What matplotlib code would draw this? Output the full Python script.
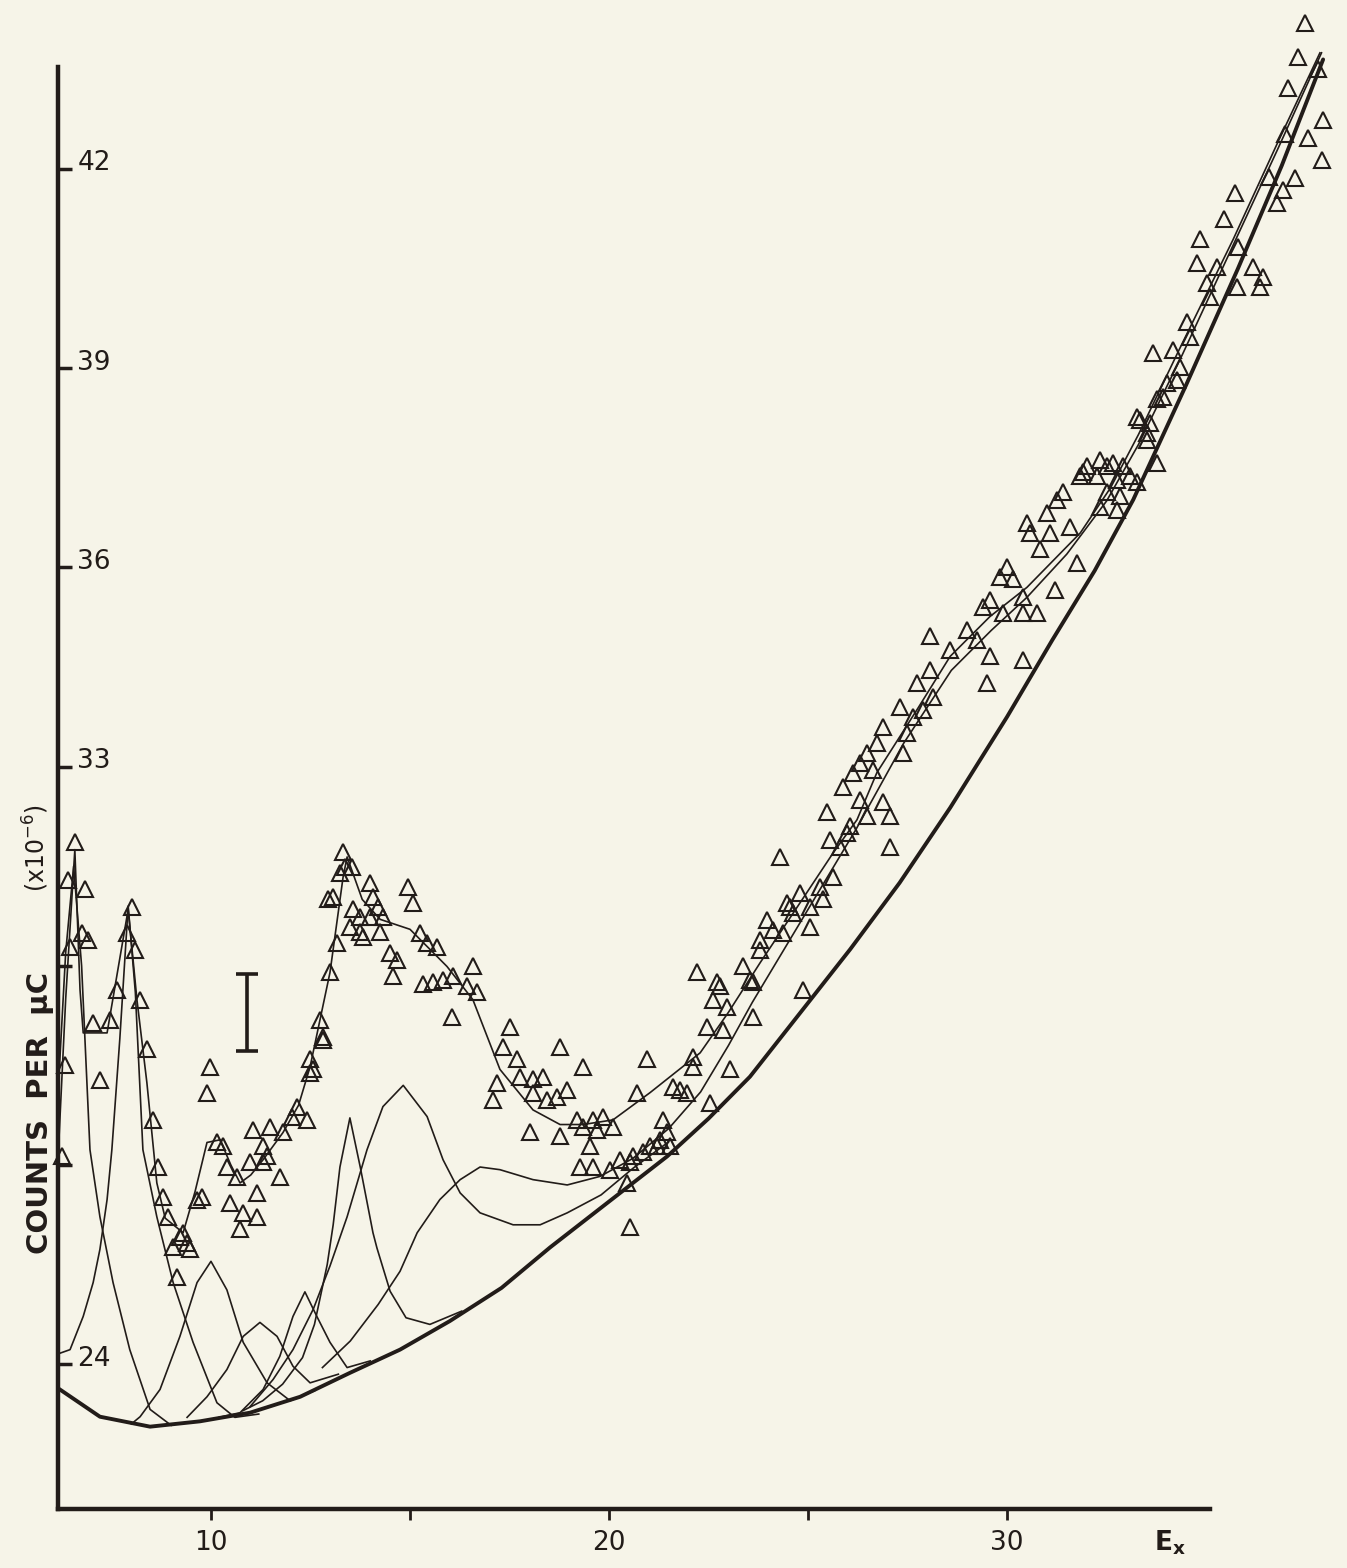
import matplotlib.pyplot as plt

plt.rcParams['font.family'] = ['DejaVu Sans']

INK = '#221c19'
PAPER = '#f6f4e8'

# measured points (triangles), x = E_x, y = counts per uC (x1e-6)
tri_x = [
    6.58, 6.41, 6.84, 6.76, 6.91, 6.46, 8.02, 7.89, 8.09, 7.64, 8.22, 7.04, 7.46, 8.39, 7.21, 6.33,
    8.54, 8.67, 8.80, 8.92, 9.30, 9.40, 9.98, 9.90, 9.77, 10.15, 10.30, 10.40, 10.65, 10.98, 11.31,
    11.41, 11.73, 11.16, 10.48, 10.81, 10.73, 11.06, 11.48, 11.81, 12.04, 12.16, 12.41, 12.56, 12.49,
    12.82, 12.74, 12.99, 13.17, 12.94, 13.32, 13.37, 13.24, 13.54, 14.00, 13.75, 13.49, 14.00, 14.50,
    14.57, 13.82, 14.33, 6.26, 9.22, 9.05, 9.47, 9.15, 9.65, 11.16, 11.31,
    13.07, 14.07, 14.95, 15.08, 13.57, 14.20, 13.75, 14.25, 14.67, 15.25, 15.43, 15.68, 15.33, 15.58,
    15.83, 16.08, 16.58, 16.43, 16.68, 16.06, 12.82, 12.49, 17.51, 17.34, 17.19, 17.09, 17.69, 17.77,
    18.09, 18.34, 18.95, 18.77, 19.35, 18.09, 18.44, 18.02, 18.77, 19.20, 19.60, 19.85, 20.10, 19.52,
    19.27, 19.60, 20.03, 20.28, 20.70, 20.96, 20.60, 21.03, 21.46, 21.79, 22.11, 20.53, 22.21,
    22.79, 23.37, 23.54, 22.61, 22.97, 23.62, 22.46, 22.87, 21.61, 21.96, 22.11, 23.04, 24.87, 22.54,
    21.36, 21.53, 21.21, 19.70, 19.35, 20.53, 20.86, 18.69, 21.28, 20.45,
    24.30, 25.55, 25.98, 25.63, 25.30, 24.80, 25.38, 24.47, 24.62, 23.97, 24.12, 25.05, 23.79, 22.71,
    28.07, 29.00, 29.40, 29.90, 30.40, 30.76, 29.25, 28.57, 29.57, 30.40, 28.07, 29.50, 27.74, 28.14,
    27.31, 27.89, 27.64, 26.89, 27.49, 26.73, 27.39, 26.48, 26.31, 26.63, 26.13, 25.88, 26.89, 27.06,
    26.31, 26.48, 25.48, 26.06, 25.81, 27.06, 25.05, 24.55, 24.37, 23.79, 23.62,
    34.02, 33.77, 33.27, 33.59, 33.52, 33.77, 32.01, 32.34, 32.66, 32.92, 31.84, 32.26, 32.76, 33.09,
    33.27, 31.41, 31.26, 32.51, 32.84, 32.34, 32.76, 31.01, 30.50, 31.58, 30.58, 31.08, 30.83, 31.76,
    30.00, 29.83, 30.15, 31.21, 29.57, 30.40,
    37.49, 37.31, 37.82, 37.06, 37.94, 36.99, 37.56, 37.91, 36.58, 37.24, 35.73, 36.92, 36.79, 35.45,
    34.85, 35.80, 34.77, 35.28, 36.18, 36.43, 35.03, 35.78, 35.10, 36.36, 34.52, 34.60, 33.67, 34.17,
    34.35, 34.27, 33.92, 33.34, 33.52, 32.51, 31.91,
]
tri_y = [
    31.87, 31.30, 31.15, 30.50, 30.39, 30.29, 30.89, 30.50, 30.24, 29.64, 29.49, 29.14, 29.19, 28.74, 28.28, 28.51,
    27.68, 26.97, 26.52, 26.22, 25.98, 25.83, 28.48, 28.09, 26.52, 27.34, 27.28, 26.97, 26.82, 27.04, 27.28,
    27.13, 26.82, 26.58, 26.43, 26.28, 26.03, 27.53, 27.58, 27.49, 27.73, 27.88, 27.68, 28.44, 28.59,
    28.93, 29.19, 29.90, 30.35, 31.00, 31.72, 31.49, 31.40, 31.49, 31.25, 30.74, 30.59, 30.74, 30.20,
    29.84, 30.44, 30.74, 27.13, 25.92, 25.77, 25.73, 25.32, 26.48, 26.22, 27.04,
    31.04, 31.04, 31.18, 30.95, 30.85, 30.89, 30.51, 30.51, 30.09, 30.50, 30.35, 30.29, 29.72, 29.75,
    29.79, 29.84, 29.99, 29.69, 29.60, 29.23, 28.89, 28.39, 29.08, 28.78, 28.24, 27.98, 28.59, 28.33,
    28.29, 28.33, 28.13, 28.78, 28.48, 28.09, 27.98, 27.49, 27.43, 27.68, 27.68, 27.73, 27.58, 27.28,
    26.97, 26.97, 26.93, 27.08, 28.09, 28.59, 27.13, 27.28, 27.49, 28.13, 28.48, 26.07, 29.90,
    29.69, 29.99, 29.79, 29.49, 29.38, 29.23, 29.08, 29.04, 28.18, 28.09, 28.63, 28.44, 29.64, 27.94,
    27.68, 27.28, 27.28, 27.53, 27.58, 27.04, 27.19, 28.03, 27.38, 26.73,
    31.64, 31.90, 32.00, 31.34, 31.19, 31.10, 31.00, 30.95, 30.80, 30.69, 30.54, 30.59, 30.39, 29.75,
    34.96, 35.06, 35.41, 35.32, 35.32, 35.32, 34.91, 34.76, 34.66, 34.61, 34.46, 34.26, 34.26, 34.05,
    33.90, 33.86, 33.75, 33.60, 33.51, 33.36, 33.21, 33.21, 33.06, 32.95, 32.91, 32.70, 32.46, 32.25,
    32.50, 32.25, 32.31, 32.10, 31.79, 31.79, 30.89, 30.89, 30.50, 30.24, 29.75,
    38.78, 38.53, 38.27, 38.18, 37.92, 37.58, 37.52, 37.62, 37.58, 37.52, 37.37, 37.37, 37.32, 37.37,
    37.28, 37.13, 37.02, 37.13, 37.07, 36.91, 36.87, 36.82, 36.67, 36.61, 36.52, 36.52, 36.27, 36.07,
    36.01, 35.86, 35.82, 35.66, 35.51, 35.56,
    44.20, 43.69, 43.50, 43.22, 42.74, 42.52, 42.47, 42.14, 41.88, 41.87, 41.64, 41.69, 41.49, 41.24,
    40.94, 40.83, 40.59, 40.53, 40.53, 40.38, 40.29, 40.23, 40.08, 40.23, 39.69, 39.47, 39.23, 39.28,
    39.02, 38.83, 38.57, 38.22, 38.03, 37.52, 37.43,
]

# background curve (thick)
bg_x = [6.13, 7.21, 8.47, 9.72, 10.98, 12.24, 13.49, 14.75, 16.0, 17.3, 18.52, 20.0, 21.46, 22.5,
        23.54, 25.05, 26.06, 27.3, 28.57, 30.0, 31.13, 32.2, 33.17, 34.5, 35.8, 36.9, 37.94]
bg_y = [23.65, 23.21, 23.06, 23.14, 23.27, 23.51, 23.87, 24.22, 24.65, 25.15, 25.76, 26.45, 27.13, 27.7,
        28.33, 29.48, 30.25, 31.25, 32.38, 33.75, 34.9, 35.95, 37.02, 38.75, 40.5, 42.05, 43.65]

# total fit through the data
fit_x = [6.15, 6.35, 6.58, 6.71, 6.79, 7.39, 7.92, 8.14, 8.39, 8.64, 8.85, 9.30, 9.6, 9.90, 10.23,
         10.5, 10.73, 11.0, 11.31, 11.81, 12.2, 12.49, 12.99, 13.32, 13.42, 13.8, 14.25, 15.0, 15.93,
         16.58, 17.26, 18.09, 18.77, 19.35, 20.10, 21.03, 22.29, 23.0, 23.8, 24.80, 25.63, 26.23,
         26.73, 27.74, 28.57, 29.57, 30.5, 31.84, 32.6, 33.3, 34.3, 35.68, 36.8, 37.86]
fit_y = [27.0, 29.5, 31.75, 29.64, 28.99, 28.99, 30.85, 29.49, 28.24, 26.73, 26.2, 25.98, 26.6, 27.34,
         27.38, 27.0, 26.73, 26.85, 27.08, 27.49, 27.9, 28.48, 29.90, 31.34, 31.64, 31.0, 30.70, 30.55,
         29.99, 29.49, 28.44, 27.83, 27.61, 27.61, 27.68, 28.09, 28.69, 29.3, 30.05, 30.95, 31.70,
         32.20, 32.91, 33.86, 34.66, 35.26, 35.7, 36.52, 37.2, 38.0, 39.25, 40.94, 42.4, 43.75]

# second fit (broad 16.8 component carried to the top)
fit2_x = [12.8, 13.5, 14.2, 14.75, 15.18, 15.75, 16.26, 16.76, 17.26, 18.09, 18.95, 19.78, 20.6, 21.5,
          22.3, 23.0, 23.6, 24.4, 25.2, 26.2, 27.4, 28.6, 29.6, 30.5, 31.5, 32.5, 33.3, 34.4, 35.6,
          36.8, 37.9]
fit2_y = [23.95, 24.35, 24.9, 25.4, 25.98, 26.48, 26.78, 26.97, 26.93, 26.78, 26.70, 26.83, 27.1, 27.55,
          28.1, 28.8, 29.45, 30.25, 31.05, 32.05, 33.35, 34.45, 35.05, 35.55, 36.2, 37.0, 37.85, 39.2,
          40.75, 42.3, 43.75]

# single-peak components (peak + background)
p1_x = [6.15, 6.35, 6.55, 6.75, 6.96, 7.21, 7.54, 7.96, 8.47, 9.0]
p1_y = [28.0, 30.2, 31.5, 30.0, 27.23, 26.22, 25.23, 24.22, 23.32, 23.08]

p2_x = [6.13, 6.46, 6.79, 7.04, 7.21, 7.39, 7.51, 7.71, 7.92, 8.1, 8.29, 8.64, 9.05, 9.55, 10.15, 10.6, 11.2]
p2_y = [24.15, 24.22, 24.72, 25.23, 25.73, 26.48, 27.23, 28.9, 30.9, 29.6, 27.23, 26.22, 25.23, 24.33,
        23.42, 23.2, 23.25]

p3_x = [8.0, 8.22, 8.72, 9.22, 9.65, 10.0, 10.40, 10.81, 11.41, 11.99, 12.6]
p3_y = [23.1, 23.21, 23.62, 24.42, 25.23, 25.55, 25.12, 24.33, 23.72, 23.45, 23.6]

p4_x = [9.4, 9.90, 10.40, 10.81, 11.23, 11.66, 12.06, 12.49, 13.2]
p4_y = [23.2, 23.51, 23.92, 24.42, 24.63, 24.42, 23.97, 23.72, 23.85]

p5_x = [10.2, 10.73, 11.31, 11.73, 12.06, 12.36, 12.66, 12.99, 13.42, 14.0]
p5_y = [23.2, 23.27, 23.62, 24.12, 24.72, 25.09, 24.72, 24.33, 23.95, 24.05]

p6_x = [10.8, 11.3, 11.8, 12.3, 12.6, 12.92, 13.07, 13.24, 13.49, 13.75, 14.07, 14.17, 14.5, 14.9,
        15.5, 16.3]
p6_y = [23.3, 23.45, 23.7, 24.1, 24.6, 25.5, 26.1, 26.97, 27.71, 26.97, 25.98, 25.75, 25.1, 24.7,
        24.6, 24.8]

p7_x = [10.98, 11.56, 12.06, 12.57, 12.99, 13.42, 13.92, 14.32, 14.83, 15.43, 15.83, 16.26, 16.76,
        17.59, 18.27, 18.95, 19.8, 20.6, 21.5]
p7_y = [23.36, 23.77, 24.22, 24.83, 25.48, 26.22, 27.23, 27.88, 28.20, 27.73, 27.08, 26.58, 26.28,
        26.10, 26.10, 26.28, 26.55, 26.95, 27.35]

# statistical error bar
err_x = [10.9]
err_y = [29.29]
err_h = [0.58]

xticks = [10, 15, 20, 25, 30]
xtick_labels = ['10', '', '20', '', '30']
yticks = [24, 27, 30, 33, 36, 39, 42]
ylabeled = [24, 33, 36, 39, 42]


fig = plt.figure(figsize=(13.47, 15.68), dpi=100, facecolor=PAPER)
ax = fig.add_axes([0.04306, 0.03763, 0.95694, 0.95918])
ax.set_facecolor(PAPER)
ax.set_xlim(6.157, 38.54)
ax.set_ylim(21.82, 44.47)

for s in ['top', 'right']:
    ax.spines[s].set_visible(False)
for s in ['left', 'bottom']:
    ax.spines[s].set_linewidth(3.2)
    ax.spines[s].set_color(INK)
ax.spines['left'].set_bounds(21.82, 43.53)
ax.spines['bottom'].set_bounds(6.157, 35.10)

thin = dict(color=INK, lw=1.2, solid_joinstyle='round')
for px, py in [(p1_x, p1_y), (p2_x, p2_y), (p3_x, p3_y), (p4_x, p4_y),
               (p5_x, p5_y), (p6_x, p6_y), (p7_x, p7_y)]:
    ax.plot(px, py, **thin)
ax.plot(fit2_x, fit2_y, **thin)
ax.plot(fit_x, fit_y, **thin)
ax.plot(bg_x, bg_y, color=INK, lw=2.8, solid_capstyle='round')

ax.plot(tri_x, tri_y, ls='none', marker='^', ms=12, mfc='none', mec=INK, mew=1.5, clip_on=False)

ax.errorbar(err_x, err_y, yerr=err_h, fmt='none', ecolor=INK, elinewidth=2.6, capsize=8, capthick=2.6)

ax.set_xticks(xticks)
ax.set_xticklabels(xtick_labels)
ax.tick_params(axis='x', direction='out', length=8, width=2, pad=7, labelsize=19, colors=INK)
ax.set_yticks(yticks)
ax.tick_params(axis='y', direction='in', length=10, width=2.5, labelleft=False, colors=INK)
for v in ylabeled:
    ax.annotate(str(v), xy=(0, v), xycoords=('axes fraction', 'data'), xytext=(14, 4),
                textcoords='offset points', ha='left', va='center', fontsize=19, color=INK)

ax.annotate('E$_{\\mathregular{x}}$', xy=(34.1, 0), xycoords=('data', 'axes fraction'),
            xytext=(0, -14), textcoords='offset points', ha='center', va='top',
            fontsize=19, fontweight='bold', color=INK)

fig.text(40 / 1347, 1 - 1113 / 1568, 'COUNTS  PER  μC', rotation=90, fontsize=21,
         fontweight='bold', ha='center', va='center', color=INK)
fig.text(36 / 1347, 1 - 848 / 1568, '(x10$^{-6}$)', rotation=90, fontsize=17,
         ha='center', va='center', color=INK)

fig.savefig('out.png', dpi=100, facecolor=PAPER)
